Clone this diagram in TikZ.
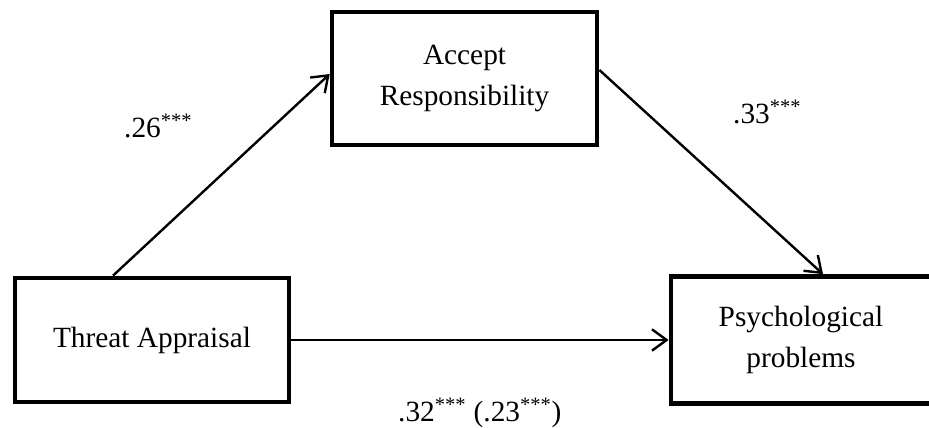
\documentclass[tikz,border=0pt]{standalone}
\usepackage{fontspec}
\setmainfont{Liberation Serif}
\usetikzlibrary{positioning,arrows.meta}

\begin{document}
\begin{tikzpicture}[-{Straight Barb[length=11pt,width=16pt]},on grid,
    line width=1.8pt,
    varbox/.style={rectangle,draw,line width=3.5pt,inner sep=0pt,align=center,
      font=\fontsize{22}{30.5}\selectfont},
    coef/.style={anchor=base west,inner sep=0pt,font=\fontsize{22}{26}\selectfont}
    ]
\useasboundingbox (-114pt,-66pt) rectangle (582.75pt,255pt);
\clip (-114pt,-66pt) rectangle (582.75pt,255pt);

\node[varbox,minimum width=205.5pt,minimum height=93pt] (thr) at (0,0) {Threat Appraisal};
\node[varbox,minimum width=198.75pt,minimum height=99.75pt] (acc) [above right=196.1pt and 234.4pt of thr] {Accept\\Responsibility};
\node[varbox,minimum width=195pt,minimum height=95.25pt] (psy) [right=486.75pt of thr] {Psychological\\problems};

% path coefficients
\node[coef] (c26) at (-21.75pt,151.5pt) {.26\textsuperscript{***}};
\node[coef] (c33) at (435pt,162pt) {.33\textsuperscript{***}};
\node[coef] (c32) at (183.75pt,-61.5pt) {.32\textsuperscript{***} (.23\textsuperscript{***})};

\draw ([xshift=-29.25pt]thr.north) -- ([yshift=3.4pt]acc.west);
\draw ([yshift=6.4pt]acc.east) -- ([xshift=16.5pt]psy.north);
\draw (thr.east) -- (psy.west);
\end{tikzpicture}
\end{document}
